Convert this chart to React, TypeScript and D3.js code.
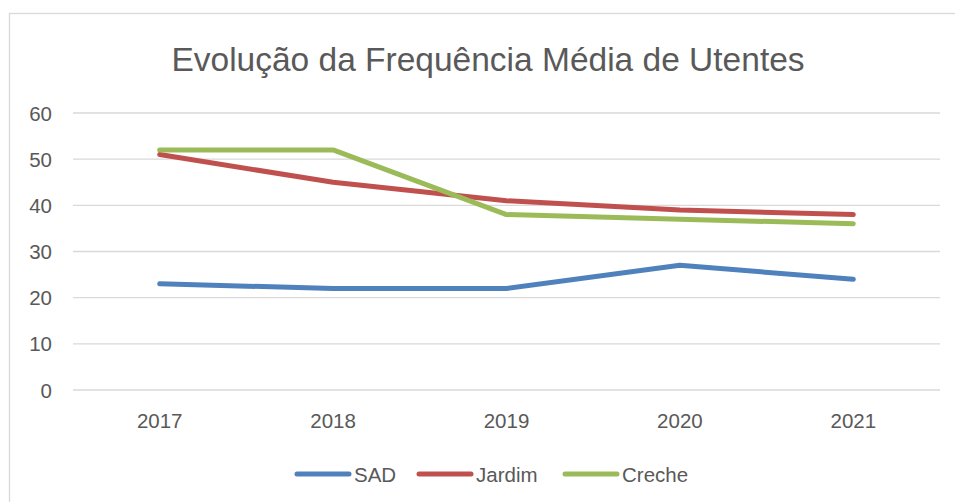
import React, { useEffect, useRef } from "react";
import * as d3 from "d3";

const years = ["2017", "2018", "2019", "2020", "2021"];
const sad = [23, 22, 22, 27, 24];
const jardim = [51, 45, 41, 39, 38];
const creche = [52, 52, 38, 37, 36];
const yTicks = [0, 10, 20, 30, 40, 50, 60];

const series = [
  { name: "SAD", values: sad, color: "#4F81BD" },
  { name: "Jardim", values: jardim, color: "#C0504D" },
  { name: "Creche", values: creche, color: "#9BBB59" },
];

const App = () => {
  const ref = useRef<SVGSVGElement>(null);

  useEffect(() => {
    const svg = d3.select(ref.current);
    svg.selectAll("*").remove();
    const font = "'Liberation Sans', Arial, sans-serif";
    const text = "#595959";

    // frame
    svg.append("rect")
      .attr("x", 9.5).attr("y", 13.5)
      .attr("width", 960).attr("height", 520)
      .attr("fill", "white").attr("stroke", "#D9D9D9").attr("stroke-width", 1.3);

    const left = 73, right = 940;
    const x = d3.scaleBand().domain(years).range([left, right]);
    const y = d3.scaleLinear().domain([0, 60]).range([390, 113]);

    svg.append("text")
      .attr("x", 488).attr("y", 71)
      .attr("text-anchor", "middle")
      .attr("font-family", font).attr("font-size", 33.5)
      .attr("fill", text)
      .text("Evolução da Frequência Média de Utentes");

    const g = svg.append("g");
    g.selectAll("line.grid").data(yTicks).enter().append("line")
      .attr("class", "grid")
      .attr("x1", left).attr("x2", right)
      .attr("y1", d => y(d)).attr("y2", d => y(d))
      .attr("stroke", "#D9D9D9").attr("stroke-width", 1.3);

    g.selectAll("text.ytick").data(yTicks).enter().append("text")
      .attr("class", "ytick")
      .attr("x", 52).attr("y", d => y(d) + 7.5)
      .attr("text-anchor", "end")
      .attr("font-family", font).attr("font-size", 20.5)
      .attr("fill", text)
      .text(d => d);

    g.selectAll("text.xtick").data(years).enter().append("text")
      .attr("class", "xtick")
      .attr("x", d => (x(d) as number) + x.bandwidth() / 2).attr("y", 428)
      .attr("text-anchor", "middle")
      .attr("font-family", font).attr("font-size", 20.5)
      .attr("fill", text)
      .text(d => d);

    const line = d3.line<number>()
      .x((_, i) => (x(years[i]) as number) + x.bandwidth() / 2)
      .y(d => y(d));

    series.forEach(s => {
      g.append("path")
        .attr("d", line(s.values))
        .attr("fill", "none")
        .attr("stroke", s.color)
        .attr("stroke-width", 5)
        .attr("stroke-linecap", "round")
        .attr("stroke-linejoin", "round");
    });

    const legendX = [297, 419, 565];
    const lg = svg.append("g");
    series.forEach((s, i) => {
      lg.append("line")
        .attr("x1", legendX[i]).attr("x2", legendX[i] + 52)
        .attr("y1", 474).attr("y2", 474)
        .attr("stroke", s.color).attr("stroke-width", 5)
        .attr("stroke-linecap", "round");
      lg.append("text")
        .attr("x", legendX[i] + 57).attr("y", 482)
        .attr("font-family", font).attr("font-size", 20.5)
        .attr("fill", text)
        .text(s.name);
    });
  }, []);

  return <svg ref={ref} width={955} height={502} style={{ position: "absolute", left: 0, top: 0 }} />;
};

export default App;
